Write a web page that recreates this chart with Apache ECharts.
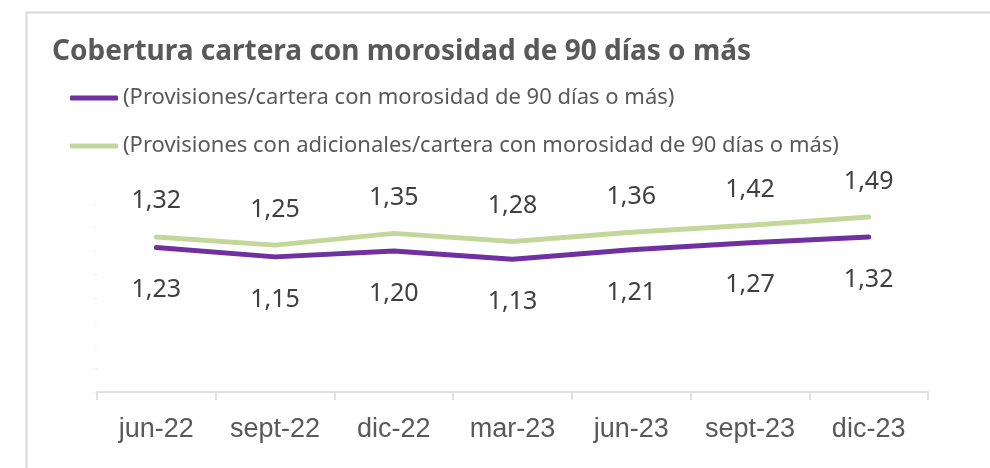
<!DOCTYPE html>
<html>
<head>
<meta charset="utf-8">
<script src="https://cdn.jsdelivr.net/npm/echarts@6/dist/echarts.min.js"></script>
<style>
  html, body { margin: 0; padding: 0; background: #fff; }
  #chart { width: 990px; height: 468px; }
</style>
</head>
<body>
<div id="chart"></div>
<script>
const periods = ['jun-22', 'sept-22', 'dic-22', 'mar-23', 'jun-23', 'sept-23', 'dic-23'];
const provisiones = [1.23, 1.15, 1.20, 1.13, 1.21, 1.27, 1.32];
const conAdicionales = [1.32, 1.25, 1.35, 1.28, 1.36, 1.42, 1.49];
const names = [
  '(Provisiones/cartera con morosidad de 90 días o más)',
  '(Provisiones con adicionales/cartera con morosidad de 90 días o más)'
];

const PURPLE = '#7030a0';
const GREEN = '#c4d79b';
const fmt = p => p.value.toFixed(2).replace('.', ',');

const chart = echarts.init(document.getElementById('chart'));
chart.setOption({
  animation: false,
  backgroundColor: '#fff',
  graphic: [{
    type: 'rect', left: 24, top: 10,
    shape: { width: 1000, height: 500 },
    style: { fill: 'none', stroke: '#d9d9d9', lineWidth: 2 }
  }],
  title: {
    text: 'Cobertura cartera con morosidad de 90 días o más',
    left: 47, top: 33,
    textStyle: { fontFamily: 'Noto Sans', fontWeight: 'bold', fontSize: 28, color: '#595959' }
  },
  legend: {
    orient: 'vertical', left: 65, top: 82, itemGap: 26,
    itemWidth: 48, itemHeight: 5, icon: 'roundRect',
    textStyle: { fontFamily: 'Noto Sans', fontSize: 22, color: '#595959' },
    data: names
  },
  grid: { left: 97, right: 62, top: 204, bottom: 76 },
  xAxis: {
    type: 'category', data: periods, boundaryGap: true,
    axisLine: { lineStyle: { color: '#d9d9d9', width: 1.5 } },
    axisTick: { show: true, length: 8, lineStyle: { color: '#d9d9d9', width: 1.5 } },
    axisLabel: { fontFamily: 'Liberation Sans', fontSize: 27, color: '#595959', margin: 24 }
  },
  yAxis: {
    type: 'value', min: 0, max: 1.6, interval: 0.2,
    axisLine: { show: false },
    axisTick: { show: true, length: 3, lineStyle: { color: '#eeeeee' } },
    axisLabel: { show: false },
    splitLine: { show: false }
  },
  series: [
    {
      name: names[0], type: 'line', data: provisiones,
      symbol: 'circle', symbolSize: 0.1, showSymbol: true,
      itemStyle: { color: PURPLE },
      lineStyle: { color: PURPLE, width: 5, cap: 'round', join: 'round' },
      label: { show: true, position: 'bottom', distance: 30, formatter: fmt,
        fontFamily: 'Noto Sans', fontSize: 25, color: '#404040' }
    },
    {
      name: names[1], type: 'line', data: conAdicionales,
      symbol: 'circle', symbolSize: 0.1, showSymbol: true,
      itemStyle: { color: GREEN },
      lineStyle: { color: GREEN, width: 5, cap: 'round', join: 'round' },
      label: { show: true, position: 'top', distance: 23, formatter: fmt,
        fontFamily: 'Noto Sans', fontSize: 25, color: '#404040' }
    }
  ]
});
</script>
</body>
</html>
